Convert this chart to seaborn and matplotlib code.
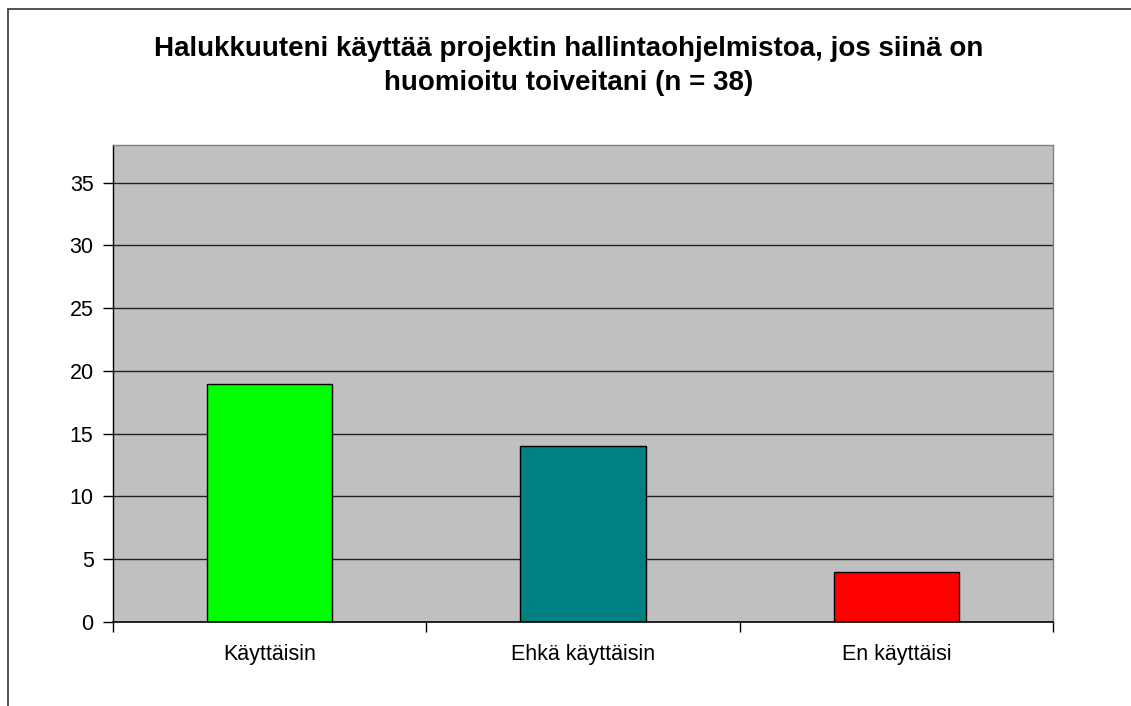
import matplotlib
matplotlib.use("Agg")
import matplotlib.pyplot as plt
import seaborn as sns
import pandas as pd
from matplotlib.patches import Rectangle

# Data
categories = ["Käyttäisin", "Ehkä käyttäisin", "En käyttäisi"]
answers = [19, 14, 4]
bar_colors = ["#00FF00", "#008080", "#FF0000"]
y_ticks = [0, 5, 10, 15, 20, 25, 30, 35]

df = pd.DataFrame({"vastaus": categories, "lkm": answers})

sns.set_style("white")
plt.rcParams["font.family"] = ["Liberation Sans", "DejaVu Sans"]
plt.rcParams["text.color"] = "black"
plt.rcParams["xtick.color"] = "black"
plt.rcParams["ytick.color"] = "black"

fig = plt.figure(figsize=(11.31, 7.06), dpi=100)
ax = fig.add_axes([113 / 1131, 1 - 622 / 706, 940 / 1131, 477 / 706])

# outer chart frame (cut off at right and bottom like in the original)
fig.patches.append(Rectangle((8 / 1131, -0.1), 1.2, 1 - 9 / 706 + 0.1,
                             transform=fig.transFigure, fill=False,
                             edgecolor="#333333", linewidth=1.2))

ax.set_facecolor("#C0C0C0")
for y in y_ticks[1:]:
    ax.axhline(y, color="#222222", linewidth=1.0, zorder=1)

sns.barplot(data=df, x="vastaus", y="lkm", hue="vastaus", palette=bar_colors,
            saturation=1, width=0.4, edgecolor="black", linewidth=1.0,
            legend=False, ax=ax, zorder=2)

ax.set_ylim(0, 38)
ax.set_xlim(-0.5, 2.5)
ax.set_yticks(y_ticks)
ax.set_xticks([0, 1, 2])
ax.set_xticklabels(categories)
ax.set_xticks([-0.5, 0.5, 1.5, 2.5], minor=True)
ax.tick_params(axis="x", which="major", bottom=True, length=0, pad=16, labelsize=15.5)
ax.tick_params(axis="x", which="minor", bottom=True, length=7, width=1, color="black", direction="out")
ax.tick_params(axis="y", left=True, length=7, width=1, color="black", direction="out",
               pad=7, labelsize=15.5)
ax.set_xlabel("")
ax.set_ylabel("")

for side in ["top", "right"]:
    ax.spines[side].set_color("#808080")
    ax.spines[side].set_linewidth(1)
ax.spines["left"].set_color("black")
ax.spines["bottom"].set_color("black")
ax.spines["left"].set_linewidth(1)
ax.spines["bottom"].set_linewidth(1.2)

fig.text(569 / 1131, 1 - 66 / 706,
         "Halukkuuteni käyttää projektin hallintaohjelmistoa, jos siinä on\nhuomioitu toiveitani (n = 38)",
         ha="center", va="center", fontsize=20, fontweight="bold", linespacing=1.35)

fig.savefig("out.png", dpi=100)
plt.close(fig)
